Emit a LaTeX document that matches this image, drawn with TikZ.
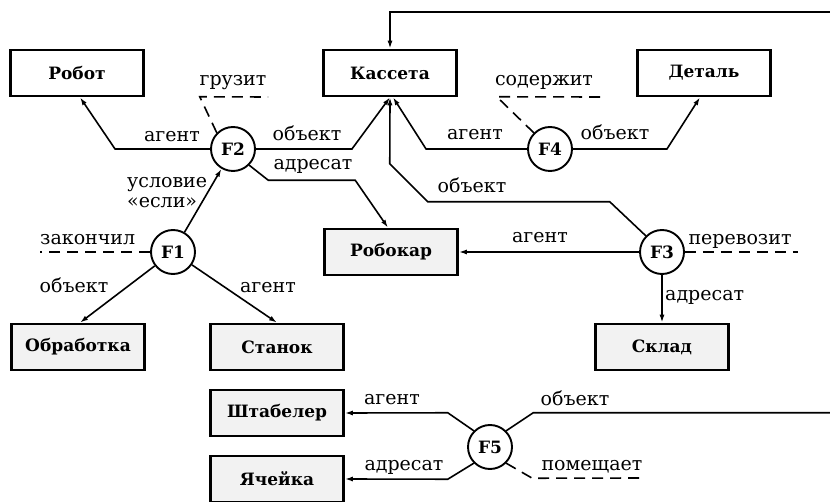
\documentclass[tikz,border=0pt]{standalone}
\usepackage{fontspec}
\setmainfont{DejaVu Serif}
\usetikzlibrary{arrows.meta}

\begin{document}
\begin{tikzpicture}[x=1pt,y=-1pt,font=\fontsize{19}{22}\selectfont,
 objbox/.style={draw,line width=2.6pt,minimum width=133pt,minimum height=46pt,inner sep=0pt,font=\fontsize{17}{20}\selectfont\bfseries},
 grainbox/.style={objbox,fill=black!5},
 fact/.style={draw,circle,line width=1.9pt,minimum size=44pt,inner sep=0pt,font=\fontsize{17}{20}\selectfont\bfseries},
 rel/.style={anchor=base,inner sep=0pt},
 wire/.style={-{Latex[length=8pt,width=5pt]},line width=1.6pt},
 dashline/.style={dash pattern=on 11pt off 7pt,line width=1.6pt}]
\useasboundingbox (0,0) rectangle (830,502);
\node[objbox] (robot) at (77,73) {Робот};
\node[objbox] (kasseta) at (390,73) {Кассета};
\node[objbox] (detal) at (704,73) {Деталь};
\node[grainbox] (robokar) at (391,252) {Робокар};
\node[grainbox] (obrabotka) at (78,347) {Обработка};
\node[grainbox] (stanok) at (277,347) {Станок};
\node[grainbox] (sklad) at (662,347) {Склад};
\node[grainbox] (shtabeler) at (277,413) {Штабелер};
\node[grainbox] (yacheyka) at (277,479) {Ячейка};
\node[fact] (F1) at (173,252) {F1};
\node[fact] (F2) at (233,149) {F2};
\node[fact] (F3) at (662,252) {F3};
\node[fact] (F4) at (550,149) {F4};
\node[fact] (F5) at (490,447) {F5};
\coordinate (gruzEnd) at (268,97);
\coordinate (soderEnd) at (600,97);
\coordinate (zakEnd) at (40,252);
\coordinate (perEnd) at (798,252);
\coordinate (pomEnd) at (645,478);
\coordinate (rim) at (832,12);
\draw[wire] (F2.west) -- ++(-95,0) -- ([xshift=3pt]robot.south);
\draw[wire] (F2.east) -- ++(96,0) -- (kasseta.south);
\draw[wire] (F2.south east) -- ++(19,15) -- ++(87,0) -- ([xshift=-3pt]robokar.north);
\draw[wire] (F1) -- (F2);
\draw[wire] (F1) -- ([xshift=2pt]obrabotka.north);
\draw[wire] (F1) -- (stanok.north);
\draw[wire] (F4.west) -- ++(-101,0) -- ([xshift=3pt]kasseta.south);
\draw[wire] (F4.east) -- ++(94,0) -- ([xshift=-4pt]detal.south);
\draw[wire] (F3.north west) -- ++(-36,-34) -- ++(-182,0) -- ++(-38,-38) -- (kasseta.south);
\draw[wire] (F3) -- (robokar);
\draw[wire] (F3) -- (sklad);
\draw[wire] (F5.north west) -- ++(-26,-18) -- (shtabeler.east);
\draw[wire] (F5.south west) -- ++(-26,16) -- (yacheyka.east);
\draw[wire] (F5.north east) -- ++(27,-18) -| (rim) -| (kasseta.north);
\draw[dashline] (F2.north west) -- ++(-17,-36) -- (gruzEnd);
\draw[dashline] (F4.north west) -- ++(-37,-36) -- (soderEnd);
\draw[dashline] (F1.west) -- (zakEnd);
\draw[dashline] (F3.east) -- (perEnd);
\draw[dashline] (F5.south east) -- ++(26,15) -- (pomEnd);
\node[rel] (gruz) at (233,86) {грузит};
\node[rel] (soder) at (544,86) {содержит};
\node[rel] (agRobot) at (172,142) {агент};
\node[rel] (obKas2) at (307,141) {объект};
\node[rel] (adrRobokar) at (313,170) {адресат};
\node[rel] (agKas4) at (475,140) {агент};
\node[rel] (obDetal) at (615,140) {объект};
\node[rel,anchor=base west] (usl) at (127,188) {условие};
\node[rel,anchor=base west] (esli) at (127,208) {«если»};
\node[rel,anchor=base west] (zak) at (40,245) {закончил};
\node[rel] (obObr) at (74,293) {объект};
\node[rel] (agStanok) at (268,293) {агент};
\node[rel] (obKas3) at (472,193) {объект};
\node[rel] (agRobokar) at (540,243) {агент};
\node[rel] (per) at (740,245) {перевозит};
\node[rel,anchor=base west] (adrSklad) at (665,301) {адресат};
\node[rel] (agSht) at (392,405) {агент};
\node[rel] (adrYach) at (404,470) {адресат};
\node[rel] (obKas5) at (575,406) {объект};
\node[rel] (pom) at (592,470) {помещает};
\end{tikzpicture}
\end{document}
